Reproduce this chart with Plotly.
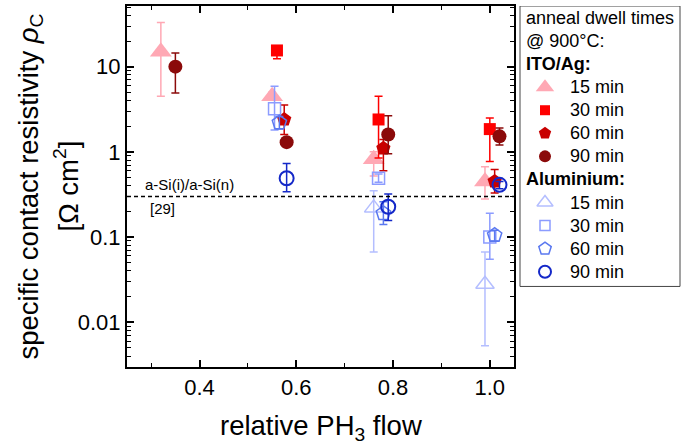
import math
import plotly.graph_objects as go

# ---- data ----
ito15_x = [0.32, 0.55, 0.76, 0.99]
ito15_y = [15.0, 4.5, 0.82, 0.45]
ito15_hi = [33.0, 5.0, 1.0, 0.67]
ito15_lo = [4.5, 4.1, 0.52, 0.28]

ito30_x = [0.56, 0.77, 1.0]
ito30_y = [15.5, 2.4, 1.85]
ito30_hi = [17.0, 4.5, 2.5]
ito30_lo = [12.4, 0.85, 0.77]

ito60_x = [0.575, 0.78, 1.01]
ito60_y = [2.4, 1.1, 0.45]
ito60_hi = [3.55, 1.4, 0.62]
ito60_lo = [1.6, 0.6, 0.33]

ito90_x = [0.35, 0.58, 0.79, 1.02]
ito90_y = [10.0, 1.3, 1.6, 1.52]
ito90_hi = [14.5, 1.45, 2.66, 1.9]
ito90_lo = [4.9, 1.15, 0.95, 1.2]

al15_x = [0.76, 0.99]
al15_y = [0.22, 0.028]
al15_hi = [0.35, 0.067]
al15_lo = [0.067, 0.0053]

al30_x = [0.555, 0.77, 1.0]
al30_y = [3.2, 0.49, 0.1]
al30_hi = [5.9, 0.55, 0.19]
al30_lo = [1.8, 0.44, 0.055]

al60_x = [0.565, 0.78, 1.01]
al60_y = [2.2, 0.19, 0.105]
al60_hi = [2.6, 0.26, 0.12]
al60_lo = [1.85, 0.14, 0.09]

al90_x = [0.58, 0.79, 1.02]
al90_y = [0.49, 0.227, 0.41]
al90_hi = [0.73, 0.32, 0.45]
al90_lo = [0.34, 0.157, 0.37]

ref_level = 0.3
x_ticks = [0.4, 0.6, 0.8, 1.0]
y_ticks = [0.01, 0.1, 1, 10]
y_ticklabels = ["0.01", "0.1", "1", "10"]

legend_title = ["anneal dwell times", "@ 900°C:"]
group_titles = ["ITO/Ag:", "Aluminium:"]

FONT = "Arial, Liberation Sans, Arimo, sans-serif"

series = [
    (0, "15 min", ito15_x, ito15_y, ito15_hi, ito15_lo, "triangle-up", 19, 16, "#FFA8B4", 0),
    (0, "30 min", ito30_x, ito30_y, ito30_hi, ito30_lo, "square", 12, 10, "#FF0000", 0),
    (0, "60 min", ito60_x, ito60_y, ito60_hi, ito60_lo, "pentagon", 15, 13, "#C80000", 0),
    (0, "90 min", ito90_x, ito90_y, ito90_hi, ito90_lo, "circle", 14, 12, "#8B0A0A", 0),
    (1, "15 min", al15_x, al15_y, al15_hi, al15_lo, "triangle-up-open", 16, 14, "#B4BEFF", 1.5),
    (1, "30 min", al30_x, al30_y, al30_hi, al30_lo, "square-open", 12, 10, "#8C9CFF", 1.5),
    (1, "60 min", al60_x, al60_y, al60_hi, al60_lo, "pentagon-open", 15, 13, "#5A78F0", 1.5),
    (1, "90 min", al90_x, al90_y, al90_hi, al90_lo, "circle-open", 14, 12, "#1428C8", 2),
]

# ---- layout geometry (pixels) ----
PL, PR, PT, PB = 127, 681, 4, 367          # paper area
AX_R = 514                                  # right edge of the main plot
LEG_L, LEG_R, LEG_T, LEG_B = 520, 680, 4, 286
W = PR - PL

fig = go.Figure()
for grp, name, xs, ys, hi, lo, sym, size, lsize, col, lw in series:
    fig.add_trace(go.Scatter(
        x=xs, y=ys, mode="markers", name=name, showlegend=False,
        marker=dict(symbol=sym, size=size, color=col, line=dict(width=lw, color=col)),
        error_y=dict(type="data", symmetric=False,
                     array=[h - y for h, y in zip(hi, ys)],
                     arrayminus=[y - l for y, l in zip(ys, lo)],
                     color=col, thickness=1.5, width=4),
    ))

# ---- hand-built legend on an auxiliary pixel-scaled axis ----
row_h = 23.2
row0 = 16
rows_y = [row0 + i * row_h for i in range(12)]
txt_font = dict(size=18, family=FONT, color="black")
for i, t in enumerate(legend_title):
    fig.add_annotation(text=t, xref="x2", yref="y2", x=LEG_L + 4, y=rows_y[i],
                       xanchor="left", yanchor="middle", showarrow=False, font=txt_font)
k = 2
for g, gt in enumerate(group_titles):
    fig.add_annotation(text="<b>" + gt + "</b>", xref="x2", yref="y2", x=LEG_L + 4, y=rows_y[k],
                       xanchor="left", yanchor="middle", showarrow=False, font=txt_font)
    k += 1
    for grp, name, xs, ys, hi, lo, sym, size, lsize, col, lw in series:
        if grp != g:
            continue
        fig.add_trace(go.Scatter(
            x=[LEG_L + 25], y=[rows_y[k]], xaxis="x2", yaxis="y2", mode="markers",
            showlegend=False, hoverinfo="skip",
            marker=dict(symbol=sym, size=lsize, color=col, line=dict(width=lw, color=col)),
        ))
        fig.add_annotation(text=name, xref="x2", yref="y2", x=LEG_L + 48, y=rows_y[k],
                           xanchor="left", yanchor="middle", showarrow=False, font=txt_font)
        k += 1

fig.add_shape(type="rect", xref="x2", yref="y2", x0=LEG_L, x1=LEG_R, y0=LEG_T, y1=LEG_B,
              line=dict(color="#444", width=1), fillcolor="rgba(0,0,0,0)", layer="below")

# ---- reference line + label ----
fig.add_shape(type="line", xref="x domain", yref="y", x0=0, x1=1, y0=ref_level, y1=ref_level,
              line=dict(color="black", width=1.5, dash="4px,3px"))
fig.add_annotation(text="a-Si(i)/a-Si(n)", xref="x", yref="y", x=0.25, y=math.log10(ref_level),
                   xanchor="left", yanchor="bottom", xshift=16, yshift=1, showarrow=False,
                   font=dict(size=15, family=FONT, color="black"))
fig.add_annotation(text="[29]", xref="x", yref="y", x=0.25, y=math.log10(ref_level),
                   xanchor="left", yanchor="top", xshift=21, yshift=-2, showarrow=False,
                   font=dict(size=15, family=FONT, color="black"))

# ---- axis titles ----
fig.add_annotation(text="specific contact resistivity <i>ρ</i><sub>C</sub>", textangle=-90,
                   xref="paper", yref="paper", x=0, y=0.5, xanchor="center", yanchor="middle",
                   xshift=-97, showarrow=False, font=dict(size=27.5, family=FONT, color="black"))
fig.add_annotation(text="[Ω cm<sup>2</sup>]", textangle=-90,
                   xref="paper", yref="paper", x=0, y=0.5, xanchor="center", yanchor="middle",
                   xshift=-60, showarrow=False, font=dict(size=27.5, family=FONT, color="black"))
fig.add_annotation(text="relative PH<sub>3</sub> flow",
                   xref="x domain", yref="paper", x=0.5, y=0, xanchor="center", yanchor="middle",
                   yshift=-60, showarrow=False, font=dict(size=27.5, family=FONT, color="black"))

axis_common = dict(showline=True, linecolor="black", linewidth=2, mirror="ticks",
                   ticks="inside", ticklen=7, tickwidth=1.5, tickcolor="black",
                   showgrid=False, zeroline=False,
                   tickfont=dict(size=22, family=FONT, color="black"))

fig.update_layout(
    xaxis=dict(domain=[0, (AX_R - PL) / W], range=[0.25, 1.05], tickvals=x_ticks, tickformat=".1f",
               minor=dict(ticks="inside", ticklen=4, tickwidth=1.2, tickcolor="black", dtick=0.1, tick0=0),
               **axis_common),
    yaxis=dict(type="log", range=[-2.525, 1.712], tickvals=y_ticks, ticktext=y_ticklabels,
               minor=dict(ticks="inside", ticklen=4, tickwidth=1.2, tickcolor="black", dtick="D1"),
               **axis_common),
    xaxis2=dict(domain=[(LEG_L - 1 - PL) / W, 1], range=[LEG_L - 1, PR], anchor="y2",
                visible=False, fixedrange=True),
    yaxis2=dict(domain=[0, 1], range=[PB, PT], anchor="x2", visible=False, fixedrange=True),
    width=700, height=446,
    margin=dict(l=PL, r=700 - PR, t=PT, b=446 - PB),
    paper_bgcolor="white", plot_bgcolor="white",
    font=dict(family=FONT, color="black"),
    showlegend=False,
)

fig.write_html("out.html", config={"displayModeBar": False},
               post_script="document.body.style.margin='0';")
